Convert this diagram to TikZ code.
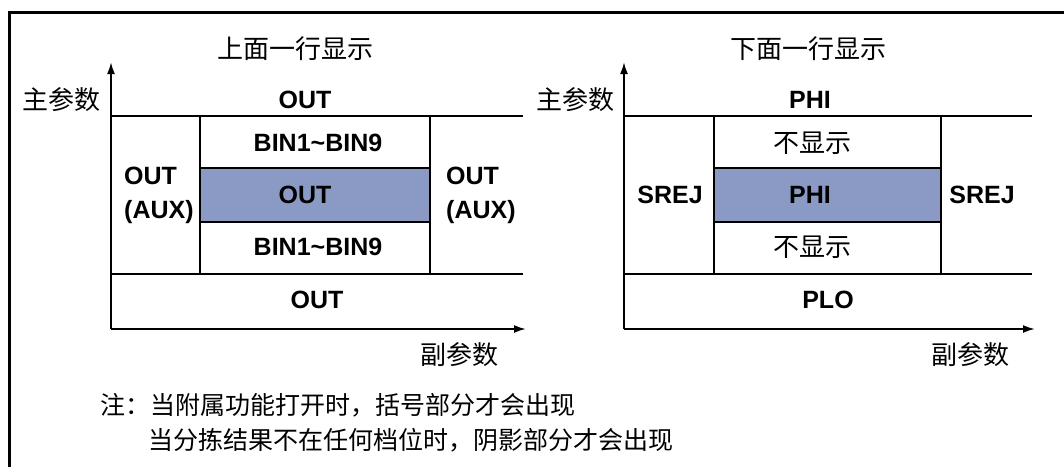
\documentclass[tikz,border=0pt]{standalone}
\usepackage{fontspec}
\setmainfont{Liberation Sans}
\newfontfamily\cjk{Noto Sans CJK SC}
\usepackage{tikz}
\usetikzlibrary{arrows.meta}
\definecolor{bandblue}{RGB}{139,154,196}
\tikzstyle{lbl} = [font={\fontsize{25}{34}\selectfont\bfseries}, inner sep=0pt]
\tikzstyle{zh} = [font={\cjk\fontsize{26}{30}\selectfont}, inner sep=0pt]
\tikzstyle{note} = [font={\cjk\fontsize{25}{30}\selectfont}, inner sep=0pt, anchor=west]
\tikzstyle{rule} = [line width=2pt]
\tikzstyle{axis} = [rule, -{Latex[length=12pt,width=8pt]}]
\tikzstyle{band} = [rule, fill=bandblue]

\begin{document}
\begin{tikzpicture}[x=1pt,y=-1pt]
        \useasboundingbox (0,0) rectangle (1064,467);
        \draw[line width=3pt] (9,467) -- (9,12) -- (1064,12);
        % upper row display
        \coordinate (o1) at (111,329);
        \coordinate (ytip1) at (111,62);
        \coordinate (xtip1) at (526,329);
        \draw[rule] (111,116) -- (523,116);
        \draw[rule] (111,274) -- (523,274);
        \draw[band] (200,168) rectangle (430,222);
        \draw[rule] (200,116) rectangle (430,274);
        \draw[axis] (o1) -- (ytip1);
        \draw[axis] (o1) -- (xtip1);
        \node[zh](title1) at (295,49){上面一行显示};
        \node[zh](main1) at (61,100){主参数};
        \node[zh](sub1) at (459,355){副参数};
        \node[lbl](top1) at (305,100){OUT};
        \node[lbl](hi1) at (318,143){BIN1\textasciitilde BIN9};
        \node[lbl](mid1) at (305,195){OUT};
        \node[lbl](lo1) at (318,247){BIN1\textasciitilde BIN9};
        \node[lbl](bot1) at (317,300){OUT};
        \node[lbl,align=left,anchor=west](left1) at (124,195){OUT\\(AUX)};
        \node[lbl,align=left,anchor=west](right1) at (446,195){OUT\\(AUX)};
        % lower row display
        \coordinate (o2) at (624,329);
        \coordinate (ytip2) at (624,62);
        \coordinate (xtip2) at (1035,329);
        \draw[rule] (624,116) -- (1032,116);
        \draw[rule] (624,274) -- (1032,274);
        \draw[band] (714,168) rectangle (941,222);
        \draw[rule] (714,116) rectangle (941,274);
        \draw[axis] (o2) -- (ytip2);
        \draw[axis] (o2) -- (xtip2);
        \node[zh](title2) at (808,49){下面一行显示};
        \node[zh](main2) at (575,100){主参数};
        \node[zh](sub2) at (970,355){副参数};
        \node[lbl](top2) at (810,100){PHI};
        \node[zh](hi2) at (812,143){不显示};
        \node[lbl](mid2) at (810,195){PHI};
        \node[zh](lo2) at (812,247){不显示};
        \node[lbl](bot2) at (828,300){PLO};
        \node[lbl](left2) at (670,195){SREJ};
        \node[lbl](right2) at (982,195){SREJ};
        % notes
        \node[note](n1) at (100,405){注：当附属功能打开时，括号部分才会出现};
        \node[note](n2) at (148,440){当分拣结果不在任何档位时，阴影部分才会出现};
      \end{tikzpicture}
\end{document}
